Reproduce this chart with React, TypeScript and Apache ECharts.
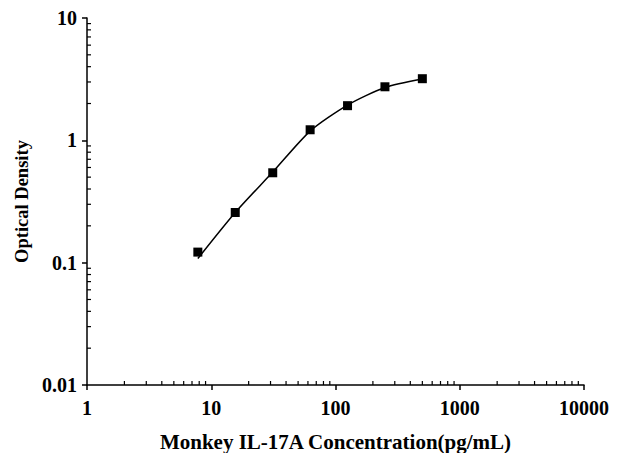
import React, { useEffect, useRef } from "react";
import * as echarts from "echarts";

const concentrations = [7.8, 15.6, 31.25, 62.5, 125, 250, 500];
const odValues = [0.122, 0.257, 0.543, 1.22, 1.92, 2.74, 3.19];
const fitValues = [0.108, 0.257, 0.55, 1.19, 1.94, 2.7, 3.17];
const xMinorTicks = [2, 3, 4, 5, 6, 7, 8, 9, 20, 30, 40, 50, 60, 70, 80, 90, 200, 300, 400, 500, 600, 700, 800, 900, 2000, 3000, 4000, 5000, 6000, 7000, 8000, 9000];
const yMinorTicks = [0.02, 0.03, 0.04, 0.05, 0.06, 0.07, 0.08, 0.09, 0.2, 0.3, 0.4, 0.5, 0.6, 0.7, 0.8, 0.9, 2, 3, 4, 5, 6, 7, 8, 9];
const xTitle = "Monkey IL-17A Concentration(pg/mL)";
const yTitle = "Optical Density";

const FONT = "'Liberation Serif', 'Times New Roman', serif";

export default function App() {
  const ref = useRef<HTMLDivElement>(null);
  useEffect(() => {
    const chart = echarts.init(ref.current!, null, { renderer: "svg" });
    const axisText = { color: "#000", fontFamily: FONT, fontWeight: "bold" as const, fontSize: 20 };
    const fmt = (v: number) => String(Number(v.toPrecision(3)));
    chart.setOption({
      animation: false,
      backgroundColor: "#fff",
      grid: { left: 79, right: 34, top: 10, bottom: 68, containLabel: false, outerBoundsMode: "none" },
      xAxis: {
        type: "log",
        min: 1,
        max: 10000,
        logBase: 10,
        name: xTitle,
        nameLocation: "middle",
        nameGap: 46,
        nameTextStyle: { ...axisText, fontSize: 21 },
        axisLine: { lineStyle: { color: "#000", width: 1.5 } },
        axisTick: { length: 5, lineStyle: { color: "#000", width: 1.5 } },
        axisLabel: { ...axisText, margin: 13, formatter: fmt },
        splitLine: { show: false },
        minorTick: { show: false },
      },
      yAxis: {
        type: "log",
        min: 0.01,
        max: 10,
        logBase: 10,
        name: yTitle,
        nameLocation: "middle",
        nameGap: 53,
        nameTextStyle: { ...axisText, fontSize: 18.5 },
        axisLine: { lineStyle: { color: "#000", width: 1.5 } },
        axisTick: { length: 5, lineStyle: { color: "#000", width: 1.5 } },
        axisLabel: { ...axisText, margin: 10, formatter: fmt },
        splitLine: { show: false },
        minorTick: { show: false },
      },
      series: [
        {
          type: "custom",
          silent: true,
          clip: false,
          data: xMinorTicks.map((v) => [v, 0.01]),
          renderItem: (params: any, api: any) => {
            const p = api.coord([api.value(0), api.value(1)]);
            return {
              type: "line",
              shape: { x1: p[0], y1: p[1], x2: p[0], y2: p[1] - 4 },
              style: { stroke: "#000", lineWidth: 1.2 },
            };
          },
        },
        {
          type: "custom",
          silent: true,
          clip: false,
          data: yMinorTicks.map((v) => [1, v]),
          renderItem: (params: any, api: any) => {
            const p = api.coord([api.value(0), api.value(1)]);
            return {
              type: "line",
              shape: { x1: p[0], y1: p[1], x2: p[0] + 4, y2: p[1] },
              style: { stroke: "#000", lineWidth: 1.2 },
            };
          },
        },
        {
          type: "line",
          smooth: 0.25,
          symbol: "none",
          lineStyle: { color: "#000", width: 1.5 },
          data: concentrations.map((c, i) => [c, fitValues[i]]),
        },
        {
          type: "scatter",
          symbol: "rect",
          symbolSize: 9,
          itemStyle: { color: "#000", opacity: 1 },
          data: concentrations.map((c, i) => [c, odValues[i]]),
        },
      ],
    });
    return () => chart.dispose();
  }, []);
  return <div ref={ref} style={{ width: 610, height: 445 }} />;
}
